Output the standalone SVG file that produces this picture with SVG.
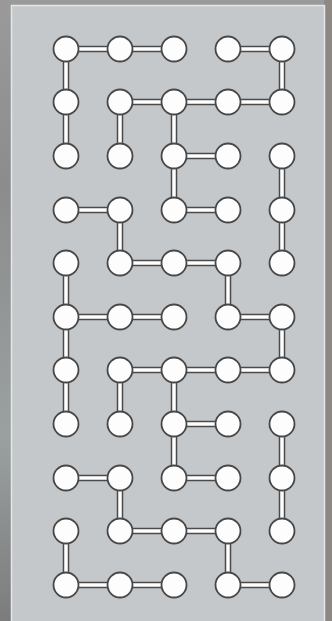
<svg xmlns="http://www.w3.org/2000/svg" xmlns:xlink="http://www.w3.org/1999/xlink" width="332" height="621" viewBox="0 0 332 621">
<defs>
<linearGradient id="bg" x1="0" y1="0" x2="0" y2="1">
<stop offset="0" stop-color="#9a9a9a"/>
<stop offset="0.3" stop-color="#8c8c8c"/>
<stop offset="0.7" stop-color="#9aa0a0"/>
<stop offset="1" stop-color="#7c7c7c"/>
</linearGradient>
<path id="wires" d="M66 49H174M228 49H282M120 102H282M174 156H228M66 210H120M174 210H228M120 263H228M66 317H174M228 317H282M120 370H282M174 424H228M66 478H120M174 478H228M120 531H228M66 585H174M228 585H282
M66 49V156M66 263V424M66 531V585M120 102V156M120 210V263M120 370V424M120 478V531M174 102V210M174 370V478M228 263V317M228 531V585M282 49V102M282 156V263M282 317V370M282 424V531"/>
<circle id="dot" r="12.5"/>
</defs>
<style>
.outer{fill:none;stroke:#4a4a4a;stroke-width:6.5;stroke-linecap:butt}
.inner{fill:none;stroke:#ffffff;stroke-width:3.5;stroke-linecap:butt}
.node use{fill:#fdfdfd;stroke:#474747;stroke-width:1.8}
</style>
<rect x="0" y="0" width="332" height="621" fill="url(#bg)"/>
<rect x="324" y="0" width="8" height="621" fill="#8d8883"/>
<rect x="11.5" y="5.5" width="313" height="620" fill="#c5c8cb" stroke="#e4e6e8" stroke-width="1.5"/>
<g id="connectors">
<use xlink:href="#wires" class="outer"/>
<use xlink:href="#wires" class="inner"/>
</g>
<g id="n1-1" class="node"><use xlink:href="#dot" x="66" y="49"/></g>
<g id="n1-2" class="node"><use xlink:href="#dot" x="120" y="49"/></g>
<g id="n1-3" class="node"><use xlink:href="#dot" x="174" y="49"/></g>
<g id="n1-4" class="node"><use xlink:href="#dot" x="228" y="49"/></g>
<g id="n1-5" class="node"><use xlink:href="#dot" x="282" y="49"/></g>
<g id="n2-1" class="node"><use xlink:href="#dot" x="66" y="102"/></g>
<g id="n2-2" class="node"><use xlink:href="#dot" x="120" y="102"/></g>
<g id="n2-3" class="node"><use xlink:href="#dot" x="174" y="102"/></g>
<g id="n2-4" class="node"><use xlink:href="#dot" x="228" y="102"/></g>
<g id="n2-5" class="node"><use xlink:href="#dot" x="282" y="102"/></g>
<g id="n3-1" class="node"><use xlink:href="#dot" x="66" y="156"/></g>
<g id="n3-2" class="node"><use xlink:href="#dot" x="120" y="156"/></g>
<g id="n3-3" class="node"><use xlink:href="#dot" x="174" y="156"/></g>
<g id="n3-4" class="node"><use xlink:href="#dot" x="228" y="156"/></g>
<g id="n3-5" class="node"><use xlink:href="#dot" x="282" y="156"/></g>
<g id="n4-1" class="node"><use xlink:href="#dot" x="66" y="210"/></g>
<g id="n4-2" class="node"><use xlink:href="#dot" x="120" y="210"/></g>
<g id="n4-3" class="node"><use xlink:href="#dot" x="174" y="210"/></g>
<g id="n4-4" class="node"><use xlink:href="#dot" x="228" y="210"/></g>
<g id="n4-5" class="node"><use xlink:href="#dot" x="282" y="210"/></g>
<g id="n5-1" class="node"><use xlink:href="#dot" x="66" y="263"/></g>
<g id="n5-2" class="node"><use xlink:href="#dot" x="120" y="263"/></g>
<g id="n5-3" class="node"><use xlink:href="#dot" x="174" y="263"/></g>
<g id="n5-4" class="node"><use xlink:href="#dot" x="228" y="263"/></g>
<g id="n5-5" class="node"><use xlink:href="#dot" x="282" y="263"/></g>
<g id="n6-1" class="node"><use xlink:href="#dot" x="66" y="317"/></g>
<g id="n6-2" class="node"><use xlink:href="#dot" x="120" y="317"/></g>
<g id="n6-3" class="node"><use xlink:href="#dot" x="174" y="317"/></g>
<g id="n6-4" class="node"><use xlink:href="#dot" x="228" y="317"/></g>
<g id="n6-5" class="node"><use xlink:href="#dot" x="282" y="317"/></g>
<g id="n7-1" class="node"><use xlink:href="#dot" x="66" y="370"/></g>
<g id="n7-2" class="node"><use xlink:href="#dot" x="120" y="370"/></g>
<g id="n7-3" class="node"><use xlink:href="#dot" x="174" y="370"/></g>
<g id="n7-4" class="node"><use xlink:href="#dot" x="228" y="370"/></g>
<g id="n7-5" class="node"><use xlink:href="#dot" x="282" y="370"/></g>
<g id="n8-1" class="node"><use xlink:href="#dot" x="66" y="424"/></g>
<g id="n8-2" class="node"><use xlink:href="#dot" x="120" y="424"/></g>
<g id="n8-3" class="node"><use xlink:href="#dot" x="174" y="424"/></g>
<g id="n8-4" class="node"><use xlink:href="#dot" x="228" y="424"/></g>
<g id="n8-5" class="node"><use xlink:href="#dot" x="282" y="424"/></g>
<g id="n9-1" class="node"><use xlink:href="#dot" x="66" y="478"/></g>
<g id="n9-2" class="node"><use xlink:href="#dot" x="120" y="478"/></g>
<g id="n9-3" class="node"><use xlink:href="#dot" x="174" y="478"/></g>
<g id="n9-4" class="node"><use xlink:href="#dot" x="228" y="478"/></g>
<g id="n9-5" class="node"><use xlink:href="#dot" x="282" y="478"/></g>
<g id="n10-1" class="node"><use xlink:href="#dot" x="66" y="531"/></g>
<g id="n10-2" class="node"><use xlink:href="#dot" x="120" y="531"/></g>
<g id="n10-3" class="node"><use xlink:href="#dot" x="174" y="531"/></g>
<g id="n10-4" class="node"><use xlink:href="#dot" x="228" y="531"/></g>
<g id="n10-5" class="node"><use xlink:href="#dot" x="282" y="531"/></g>
<g id="n11-1" class="node"><use xlink:href="#dot" x="66" y="585"/></g>
<g id="n11-2" class="node"><use xlink:href="#dot" x="120" y="585"/></g>
<g id="n11-3" class="node"><use xlink:href="#dot" x="174" y="585"/></g>
<g id="n11-4" class="node"><use xlink:href="#dot" x="228" y="585"/></g>
<g id="n11-5" class="node"><use xlink:href="#dot" x="282" y="585"/></g>
</svg>
